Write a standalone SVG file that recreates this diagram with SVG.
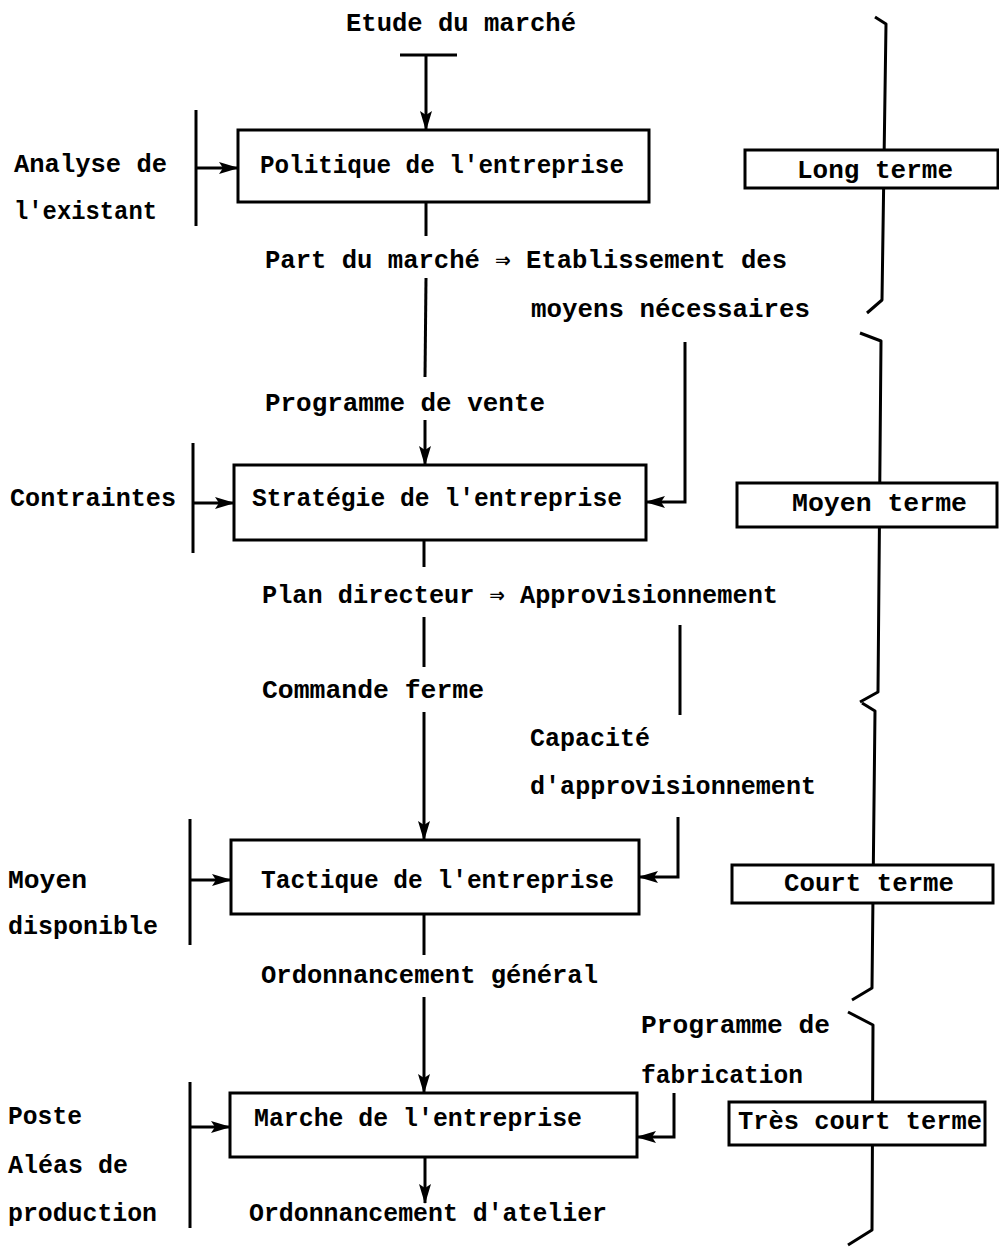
<svg xmlns="http://www.w3.org/2000/svg" width="999" height="1250" viewBox="0 0 999 1250">
<style>
text{font-family:"Liberation Mono","DejaVu Sans Mono",monospace;font-size:26px;font-weight:bold;fill:#000}
.box{fill:#fff;stroke:#000;stroke-width:3}
.ln{fill:none;stroke:#000;stroke-width:3;stroke-linejoin:miter}
.br{fill:none;stroke:#000;stroke-width:3;stroke-linejoin:round}
</style>
<defs>
<marker id="ah" viewBox="0 0 20 12" refX="19" refY="6" markerWidth="20" markerHeight="12" markerUnits="userSpaceOnUse" orient="auto">
<path d="M0,0 L20,6 L0,12 L4,6 z" fill="#000"/>
</marker>
</defs>
<g id="braces">
<path class="br" d="M875,17 L886,24 L882,300 L867,313"/>
<path class="br" d="M860,333 L881,341 L878,692 L860,702"/>
<path class="br" d="M862,703 L875,711 L872,988 L852,1000"/>
<path class="br" d="M848,1012 L873,1025 L872,1230 L848,1245"/>
</g>
<g id="connectors">
<path class="ln" d="M400,55 L457,55"/>
<path class="ln" d="M426,55 L426,130" marker-end="url(#ah)"/>
<path class="ln" d="M196,110 L196,226"/>
<path class="ln" d="M196,168 L238,168" marker-end="url(#ah)"/>
<path class="ln" d="M426,202 L426,236"/>
<path class="ln" d="M426,278 L425,377"/>
<path class="ln" d="M425,420 L425,465" marker-end="url(#ah)"/>
<path class="ln" d="M685,342 L685,502 L646,502" marker-end="url(#ah)"/>
<path class="ln" d="M193,443 L193,553"/>
<path class="ln" d="M193,503 L234,503" marker-end="url(#ah)"/>
<path class="ln" d="M424,540 L424,567"/>
<path class="ln" d="M424,617 L424,667"/>
<path class="ln" d="M424,712 L424,840" marker-end="url(#ah)"/>
<path class="ln" d="M680,625 L680,715"/>
<path class="ln" d="M678,817 L678,877 L639,877" marker-end="url(#ah)"/>
<path class="ln" d="M190,819 L190,945"/>
<path class="ln" d="M190,880 L231,880" marker-end="url(#ah)"/>
<path class="ln" d="M424,914 L424,955"/>
<path class="ln" d="M424,997 L424,1093" marker-end="url(#ah)"/>
<path class="ln" d="M190,1082 L190,1228"/>
<path class="ln" d="M190,1127 L230,1127" marker-end="url(#ah)"/>
<path class="ln" d="M674,1093 L674,1137 L637,1137" marker-end="url(#ah)"/>
<path class="ln" d="M425,1157 L425,1203" marker-end="url(#ah)"/>
</g>
<g id="politique"><rect class="box" x="238" y="130" width="411" height="72"/><text x="260" y="173" textLength="364" lengthAdjust="spacingAndGlyphs">Politique de l'entreprise</text></g>
<g id="strategie"><rect class="box" x="234" y="465" width="412" height="75"/><text x="252" y="506" textLength="370" lengthAdjust="spacingAndGlyphs">Stratégie de l'entreprise</text></g>
<g id="tactique"><rect class="box" x="231" y="840" width="408" height="74"/><text x="261" y="888" textLength="353" lengthAdjust="spacingAndGlyphs">Tactique de l'entreprise</text></g>
<g id="marche"><rect class="box" x="230" y="1093" width="407" height="64"/><text x="254" y="1126" textLength="328" lengthAdjust="spacingAndGlyphs">Marche de l'entreprise</text></g>
<g id="long-terme"><rect class="box" x="745" y="150" width="253" height="38"/><text x="797" y="178" textLength="156" lengthAdjust="spacingAndGlyphs">Long terme</text></g>
<g id="moyen-terme"><rect class="box" x="737" y="483" width="260" height="44"/><text x="792" y="511" textLength="175" lengthAdjust="spacingAndGlyphs">Moyen terme</text></g>
<g id="court-terme"><rect class="box" x="732" y="865" width="261" height="38"/><text x="784" y="891" textLength="170" lengthAdjust="spacingAndGlyphs">Court terme</text></g>
<g id="tres-court-terme"><rect class="box" x="729" y="1102" width="256" height="43"/><text x="738" y="1129" textLength="244" lengthAdjust="spacingAndGlyphs">Très court terme</text></g>
<g id="labels">
<text x="346" y="31" textLength="230" lengthAdjust="spacingAndGlyphs">Etude du marché</text>
<text x="14" y="172" textLength="153" lengthAdjust="spacingAndGlyphs">Analyse de</text>
<text x="14" y="219" textLength="143" lengthAdjust="spacingAndGlyphs">l'existant</text>
<text x="265" y="268" textLength="522" lengthAdjust="spacingAndGlyphs">Part du marché ⇒ Etablissement des</text>
<text x="531" y="317" textLength="279" lengthAdjust="spacingAndGlyphs">moyens nécessaires</text>
<text x="265" y="411" textLength="280" lengthAdjust="spacingAndGlyphs">Programme de vente</text>
<text x="10" y="506" textLength="166" lengthAdjust="spacingAndGlyphs">Contraintes</text>
<text x="262" y="603" textLength="516" lengthAdjust="spacingAndGlyphs">Plan directeur ⇒ Approvisionnement</text>
<text x="262" y="698" textLength="222" lengthAdjust="spacingAndGlyphs">Commande ferme</text>
<text x="530" y="746" textLength="120" lengthAdjust="spacingAndGlyphs">Capacité</text>
<text x="530" y="794" textLength="286" lengthAdjust="spacingAndGlyphs">d'approvisionnement</text>
<text x="8" y="888" textLength="79" lengthAdjust="spacingAndGlyphs">Moyen</text>
<text x="8" y="934" textLength="150" lengthAdjust="spacingAndGlyphs">disponible</text>
<text x="261" y="983" textLength="337" lengthAdjust="spacingAndGlyphs">Ordonnancement général</text>
<text x="641" y="1033" textLength="189" lengthAdjust="spacingAndGlyphs">Programme de</text>
<text x="641" y="1083" textLength="162" lengthAdjust="spacingAndGlyphs">fabrication</text>
<text x="8" y="1124" textLength="74" lengthAdjust="spacingAndGlyphs">Poste</text>
<text x="8" y="1173" textLength="120" lengthAdjust="spacingAndGlyphs">Aléas de</text>
<text x="8" y="1221" textLength="149" lengthAdjust="spacingAndGlyphs">production</text>
<text x="249" y="1221" textLength="358" lengthAdjust="spacingAndGlyphs">Ordonnancement d'atelier</text>
</g>
</svg>
